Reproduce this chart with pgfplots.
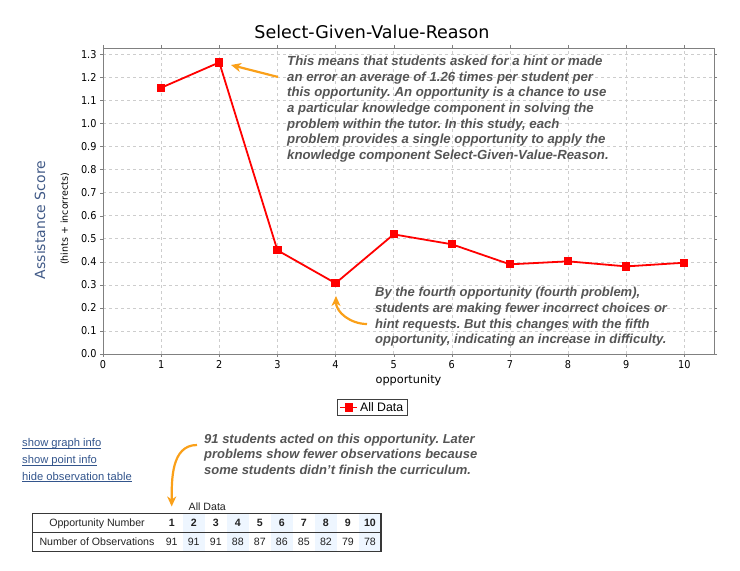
\documentclass[border=0pt]{standalone}
\usepackage{pgfplots}
\pgfplotsset{compat=1.18}
\usepackage{fontspec}
\setmainfont{Liberation Sans}
\newfontfamily\dejavu{DejaVu Sans}
\newfontfamily\dejacond{DejaVu Sans Condensed}
\usetikzlibrary{arrows.meta}
\frenchspacing
\definecolor{annot}{RGB}{85,85,85}
\definecolor{orarrow}{RGB}{250,160,25}
\definecolor{linkc}{RGB}{51,85,140}
\definecolor{ylab}{RGB}{65,90,135}
\definecolor{colshade}{RGB}{238,246,255}
\definecolor{gridc}{RGB}{205,205,205}
\definecolor{tabtext}{RGB}{34,34,34}
\begin{document}
\begin{tikzpicture}[x=1pt,y=1pt]
\path[use as bounding box] (0,0) rectangle (740,571);
\begin{axis}[at={(103pt,217pt)}, anchor=south west, scale only axis,
  width=611pt, height=306pt,
  xmin=0, xmax=10.51, ymin=0, ymax=1.3275,
  xtick={0,1,2,3,4,5,6,7,8,9,10},
  ytick={0,0.1,0.2,0.3,0.4,0.5,0.6,0.7,0.8,0.9,1.0,1.1,1.2,1.3},
  grid=major, major grid style={dashed, gridc, line width=0.5pt},
  axis line style={draw=gray, line width=0.8pt},
  tick align=outside, major tick length=3pt, tick style={gray},
  ticklabel style={font=\dejacond\fontsize{10.8}{12}\selectfont},
  /pgf/number format/assume math mode=true,
  yticklabel style={/pgf/number format/.cd,fixed,fixed zerofill,precision=1},
  legend style={at={(axis description cs:0.4406,-0.1748)}, anchor=center,
    draw=darkgray, line width=1.2pt, font=\fontsize{12.3}{14}\selectfont,
    inner xsep=2pt, inner ysep=1pt},
  legend cell align=left,
]
\addplot[red, line width=1.8pt, mark=square*, mark size=3.2pt, mark options={solid}] table {
x y
1 1.155
2 1.265
3 0.450
4 0.307
5 0.519
6 0.476
7 0.389
8 0.402
9 0.380
10 0.396
};
\addlegendentry{All Data}
\end{axis}
% title and labels
\node[anchor=base, font=\dejavu\fontsize{17.5}{20}\selectfont] at (372,532.7) {Select-Given-Value-Reason};
\node[rotate=90, font=\dejavu\fontsize{14}{16}\selectfont, text=ylab] at (40,351) {Assistance Score};
\node[rotate=90, font=\dejavu\fontsize{9.5}{11}\selectfont] at (65,352) {(hints + incorrects)};
\node[anchor=base, font=\dejavu\fontsize{11.3}{13}\selectfont] at (408.5,187.5) {opportunity};
% annotations
\node[anchor=north west, inner sep=0, align=left, text=annot, font=\bfseries\itshape\fontsize{13.2}{15.7}\selectfont] at (287,515.3) {This means that students asked for a hint or made\\an error an average of 1.26 times per student per\\this opportunity. An opportunity is a chance to use\\a particular knowledge component in solving the\\problem within the tutor. In this study, each\\problem provides a single opportunity to apply the\\knowledge component Select-Given-Value-Reason.};
\node[anchor=north west, inner sep=0, align=left, text=annot, font=\bfseries\itshape\fontsize{13}{15.7}\selectfont] at (375,284) {By the fourth opportunity (fourth problem),\\students are making fewer incorrect choices or\\hint requests. But this changes with the fifth\\opportunity, indicating an increase in difficulty.};
\node[anchor=north west, inner sep=0, align=left, text=annot, font=\bfseries\itshape\fontsize{13}{15.7}\selectfont] at (204,137.5) {91 students acted on this opportunity. Later\\problems show fewer observations because\\some students didn’t finish the curriculum.};
% arrows
\draw[orarrow, line width=2.2pt, -{Stealth[length=10pt,width=9pt,inset=3pt]}] (278,494) -- (231,506);
\draw[orarrow, line width=2.2pt, -{Stealth[length=10pt,width=9pt,inset=3pt]}] (367,247) to[out=180,in=-90] (336,275);
\draw[orarrow, line width=2.2pt, -{Stealth[length=10pt,width=9pt,inset=3pt]}] (197,126) to[out=180,in=90] (171.7,64.5);
% links
\foreach \yy/\tt [count=\k] in {124.3/show graph info, 107.5/show point info, 90.8/hide observation table}{
  \node[anchor=base west, inner sep=0, text=linkc, font=\fontsize{11.2}{13}\selectfont] (lk\k) at (22,\yy) {\tt};
  \draw[linkc, line width=0.9pt] ([yshift=-1.7pt]lk\k.base west) -- ([yshift=-1.7pt]lk\k.base east);
}
% table
\foreach \i in {2,4,6,8,10}{
  \fill[colshade] ({171.7+(\i-1)*22.03-11},19.5) rectangle ({171.7+(\i-1)*22.03+11},57.5);
}
\draw[tabtext!90, line width=1.2pt] (32.5,19.5) rectangle (381,57.5);
\draw[tabtext!90, line width=1pt] (32.5,38.5) -- (381,38.5);
\node[anchor=base, text=tabtext, font=\fontsize{10.6}{12}\selectfont] at (207.3,60.3) {All Data};
\node[anchor=base, text=tabtext, font=\fontsize{10.6}{12}\selectfont] at (97,44.3) {Opportunity Number};
\node[anchor=base, text=tabtext, font=\fontsize{10.6}{12}\selectfont] at (97,25) {Number of Observations};
\foreach \i/\n in {1/91,2/91,3/91,4/88,5/87,6/86,7/85,8/82,9/79,10/78}{
  \node[anchor=base, text=tabtext, font=\bfseries\fontsize{10.6}{12}\selectfont] at ({171.7+(\i-1)*22.03},44.3) {\i};
  \node[anchor=base, text=tabtext, font=\fontsize{10.6}{12}\selectfont] at ({171.7+(\i-1)*22.03},25) {\n};
}
\end{tikzpicture}
\end{document}
